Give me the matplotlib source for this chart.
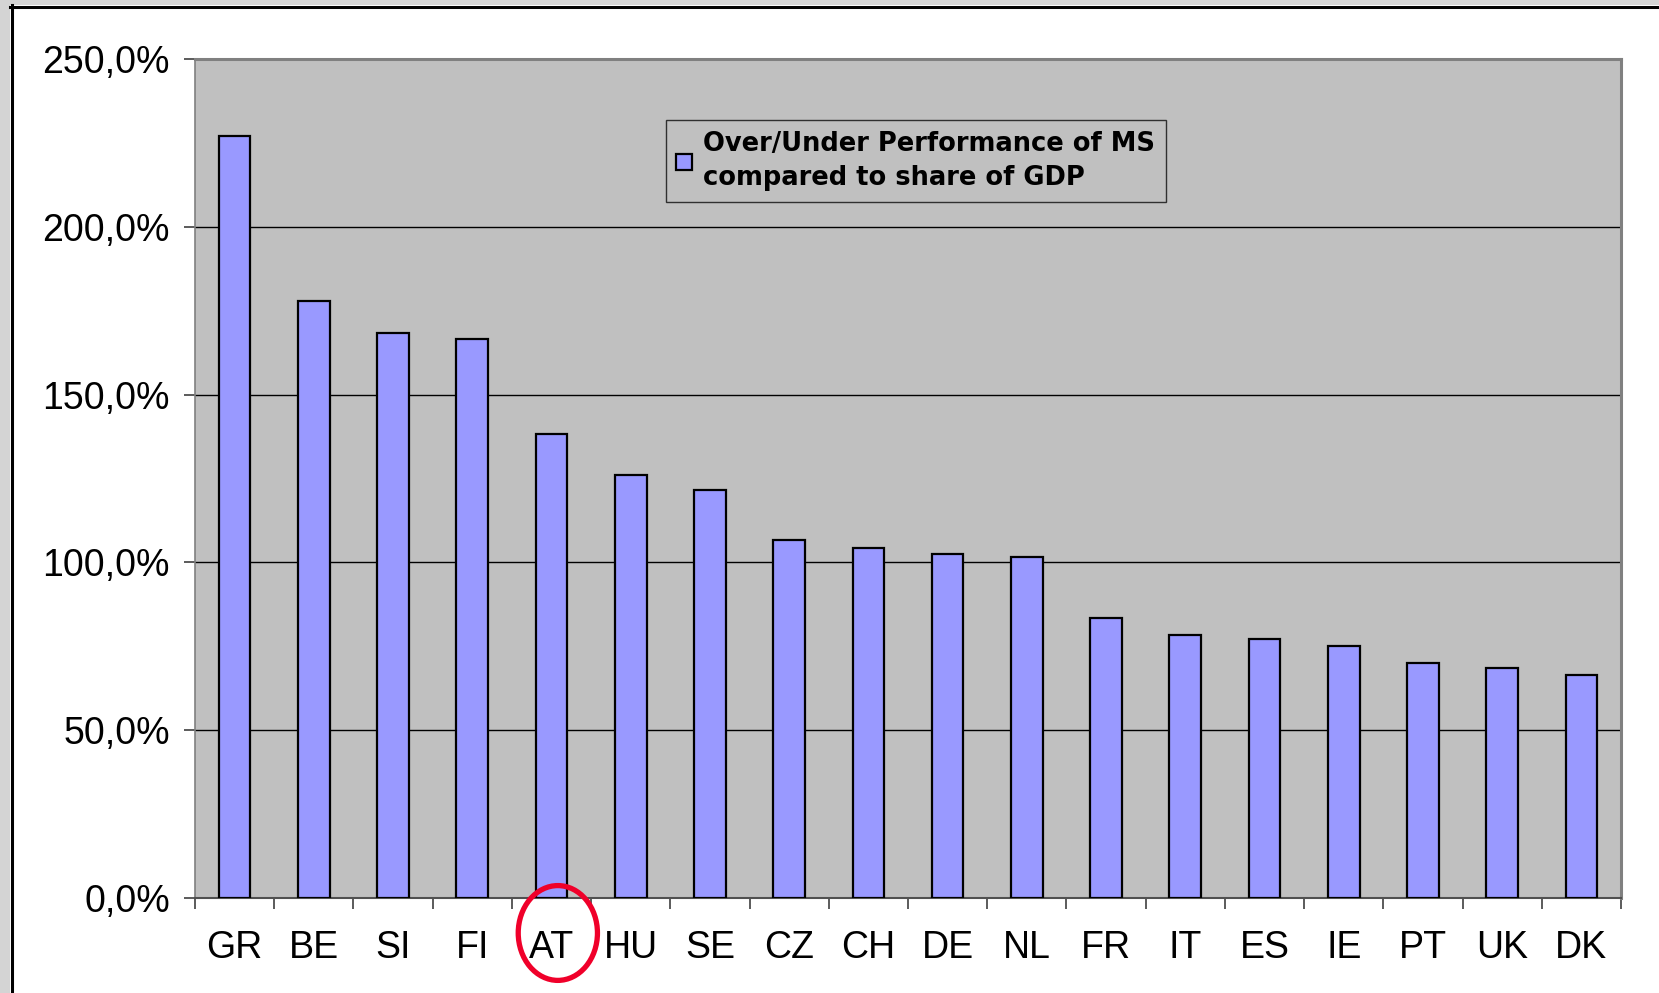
import matplotlib
matplotlib.use("Agg")
import matplotlib.pyplot as plt
from matplotlib.patches import Rectangle, Ellipse
from matplotlib.lines import Line2D
from matplotlib.ticker import FuncFormatter
import matplotlib.transforms as mtransforms

countries = ["GR", "BE", "SI", "FI", "AT", "HU", "SE", "CZ", "CH",
             "DE", "NL", "FR", "IT", "ES", "IE", "PT", "UK", "DK"]
performance = [227.0, 177.8, 168.3, 166.5, 138.4, 126.1, 121.7, 106.6, 104.3,
               102.5, 101.5, 83.5, 78.5, 77.2, 75.0, 70.0, 68.4, 66.5]
yticks = [0, 50, 100, 150, 200, 250]
legend_label = "Over/Under Performance of MS\ncompared to share of GDP"
highlight = "AT"

plt.rcParams["font.family"] = ["Liberation Sans", "DejaVu Sans"]

W, H = 1659, 993
fig = plt.figure(figsize=(W / 100, H / 100), dpi=100)
fig.patch.set_facecolor("white")

# screenshot-like frame: grey strip + black border on top and left
fig.add_artist(Rectangle((0, 1 - 5 / H), 1, 5 / H, transform=fig.transFigure,
                         facecolor="#d4d4d4", edgecolor="none"))
fig.add_artist(Rectangle((0, 0), 10 / W, 1, transform=fig.transFigure,
                         facecolor="#d4d4d4", edgecolor="none"))
fig.add_artist(Line2D([10 / W, 1], [1 - 6.5 / H] * 2, transform=fig.transFigure,
                      color="black", lw=2.2))
fig.add_artist(Line2D([12 / W] * 2, [0, 1 - 5 / H], transform=fig.transFigure,
                      color="black", lw=2.2))

ax = fig.add_axes([195 / W, (H - 898) / H, 1426 / W, 839 / H])
ax.set_facecolor("#c0c0c0")

x = list(range(len(countries)))
ax.bar(x, performance, width=0.4, color="#9999ff", edgecolor="black",
       linewidth=1.6, zorder=3, label=legend_label)

ax.set_xlim(-0.5, len(countries) - 0.5)
ax.set_ylim(0, 250)
ax.set_yticks(yticks)
ax.yaxis.set_major_formatter(FuncFormatter(lambda v, p: f"{v:.1f}%".replace(".", ",")))
for yv in yticks[1:-1]:
    ax.axhline(yv, color="black", lw=1.0, zorder=1)

ax.set_xticks(x)
ax.set_xticklabels(countries)
ax.set_xticks([i - 0.5 for i in range(len(countries) + 1)], minor=True)
ax.tick_params(axis="x", which="major", length=0, pad=23, labelsize=27)
ax.tick_params(axis="x", which="minor", length=8, width=1.2, color="#404040")
ax.tick_params(axis="y", length=8, width=1.2, color="#404040", pad=10, labelsize=27)

for side in ["top", "right"]:
    ax.spines[side].set_color("#808080")
    ax.spines[side].set_linewidth(2.2)
ax.spines["left"].set_color("#808080")
ax.spines["left"].set_linewidth(1.2)
ax.spines["bottom"].set_color("#505050")
ax.spines["bottom"].set_linewidth(1.5)

leg = ax.legend(loc="upper left", bbox_to_anchor=(0.330, 0.927), borderaxespad=0,
                frameon=True, fancybox=False, facecolor="#c0c0c0", edgecolor="#303030",
                framealpha=1, handlelength=0.6, handleheight=0.6, handletextpad=0.45,
                borderpad=0.42,
                prop={"family": "DejaVu Sans", "weight": "bold", "size": 18.5})
leg.get_frame().set_linewidth(1.0)
for t in leg.get_texts():
    t.set_linespacing(1.4)

# red circle drawn around the highlighted label
i_hl = countries.index(highlight)
trans = mtransforms.blended_transform_factory(ax.transData, ax.transAxes)
ax.add_patch(Ellipse((i_hl + 0.08, -0.0417), 1.0, 0.113, transform=trans,
                     facecolor="none", edgecolor="#f0002a", lw=3.8, clip_on=False, zorder=10))

fig.savefig("out.png", dpi=100)
